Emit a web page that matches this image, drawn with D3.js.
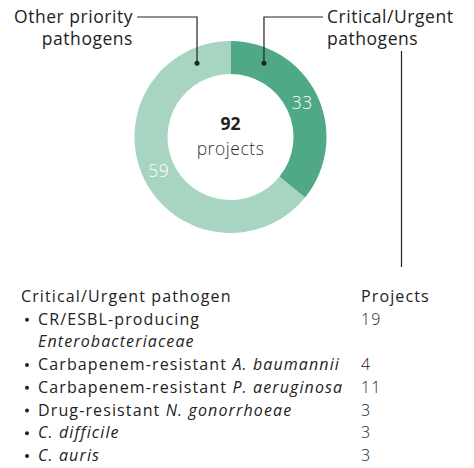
<!DOCTYPE html>
<html><head><meta charset="utf-8">
<script src="https://cdn.jsdelivr.net/npm/d3@7"></script>
<style>
body{margin:0;background:#fff;}
svg text{font-family:"Open Sans",sans-serif;}
</style></head>
<body><svg id="c" width="474" height="468"></svg>
<script>
const segmentNames = ["Critical/Urgent pathogens", "Other priority pathogens"];
const segmentValues = [33, 59];
const segmentColors = ["#4ea984", "#a8d4c2"];
const totalLabel = "92";
const totalSub = "projects";

const tableHeader = ["Critical/Urgent pathogen", "Projects"];
const pathogenNames = [
  [[["CR/ESBL-producing", false]], [["Enterobacteriaceae", true]]],
  [[["Carbapenem-resistant ", false], ["A. baumannii", true]]],
  [[["Carbapenem-resistant ", false], ["P. aeruginosa", true]]],
  [[["Drug-resistant ", false], ["N. gonorrhoeae", true]]],
  [[["C. difficile", true]]],
  [[["C. auris", true]]]
];
const pathogenProjects = [19, 4, 11, 3, 3, 3];

const svg = d3.select("#c");
const cx = 230.5, cy = 137, rOut = 96, rIn = 63;
const g = svg.append("g").attr("transform", `translate(${cx},${cy})`);

function spacingFor(sel, target) {
  const w = sel.node().getComputedTextLength();
  const n = sel.text().length;
  return (target - w) / n;
}

const pie = d3.pie().sort(null).value(d => d)(segmentValues);
const arc = d3.arc().innerRadius(rIn).outerRadius(rOut);
g.selectAll("path.seg").data(pie).join("path").attr("class","seg")
  .attr("d", arc).attr("fill", (d,i) => segmentColors[i]);

const labFs = 17.5, W = 400;
const tmp = svg.append("text").attr("font-size", labFs).attr("font-weight", W).text("Other priority");
const labLs = spacingFor(tmp, 119);
tmp.remove();

const labelArc = d3.arc().innerRadius((rIn+rOut)/2).outerRadius((rIn+rOut)/2);
g.selectAll("text.val").data(pie).join("text").attr("class","val")
  .attr("x", d => labelArc.centroid(d)[0])
  .attr("y", d => labelArc.centroid(d)[1] + 6)
  .attr("text-anchor","middle").attr("fill","#fff").attr("font-weight",300)
  .attr("font-size", labFs).attr("letter-spacing", labLs).text(d => d.data);

g.append("text").attr("y", -7).attr("text-anchor","middle")
  .attr("font-size", labFs).attr("font-weight", 700).attr("fill","#222").text(totalLabel);
g.append("text").attr("y", 18).attr("text-anchor","middle").attr("letter-spacing", labLs)
  .attr("font-size", labFs).attr("font-weight",300).attr("fill","#333").text(totalSub);

const dotR = 81, dotAng = 0.426;
const lineY = 17 - cy;
const lx = -dotR*Math.sin(dotAng), rx = dotR*Math.sin(dotAng), dy = -dotR*Math.cos(dotAng);
const lead = g.append("g").attr("stroke","#222").attr("stroke-width",1.2).attr("fill","none");
lead.append("path").attr("d", `M${lx},${dy}V${lineY}H${137-cx}`);
lead.append("path").attr("d", `M${rx},${dy}V${lineY}H${323-cx}`);
g.append("circle").attr("cx", lx).attr("cy", dy).attr("r", 2.5).attr("fill","#222");
g.append("circle").attr("cx", rx).attr("cy", dy).attr("r", 2.5).attr("fill","#222");

const lt = svg.append("text").attr("text-anchor","end").attr("font-size",labFs).attr("letter-spacing", labLs).attr("font-weight",W).attr("fill","#222");
lt.append("tspan").attr("x",133).attr("y",23).text("Other priority");
lt.append("tspan").attr("x",133).attr("y",45).text("pathogens");
const rt = svg.append("text").attr("text-anchor","start").attr("font-size",labFs).attr("letter-spacing", labLs).attr("font-weight",W).attr("fill","#222");
rt.append("tspan").attr("x",327).attr("y",23).text("Critical/Urgent");
rt.append("tspan").attr("x",327).attr("y",45).text("pathogens");

svg.append("line").attr("x1",401.5).attr("x2",401.5).attr("y1",51).attr("y2",267)
  .attr("stroke","#222").attr("stroke-width",1.2);

// table
const colX = 21, numX = 361, lh = 22.7, fs = 16;
const probe = svg.append("text").attr("font-size", fs).attr("font-weight",W);
probe.append("tspan").text("Carbapenem-resistant ");
probe.append("tspan").attr("font-style","italic").text("A. baumannii");
const ls = spacingFor(probe, 302);
probe.remove();

const T = (x, y) => svg.append("text").attr("x", x).attr("y", y).attr("font-size", fs)
  .attr("letter-spacing", ls).attr("font-weight",W).attr("fill","#222");
T(colX, 302).text(tableHeader[0]);
T(numX, 302).text(tableHeader[1]);
let y = 302;
pathogenNames.forEach((lines, i) => {
  y += lh;
  svg.append("circle").attr("cx", 27).attr("cy", y-5).attr("r", 2).attr("fill","#222");
  T(numX, y).attr("font-weight",300).text(pathogenProjects[i]);
  lines.forEach((parts, j) => {
    if (j > 0) y += lh;
    const t = T(38, y);
    parts.forEach(p => t.append("tspan").attr("font-style", p[1] ? "italic" : "normal").text(p[0]));
  });
});
</script></body></html>
